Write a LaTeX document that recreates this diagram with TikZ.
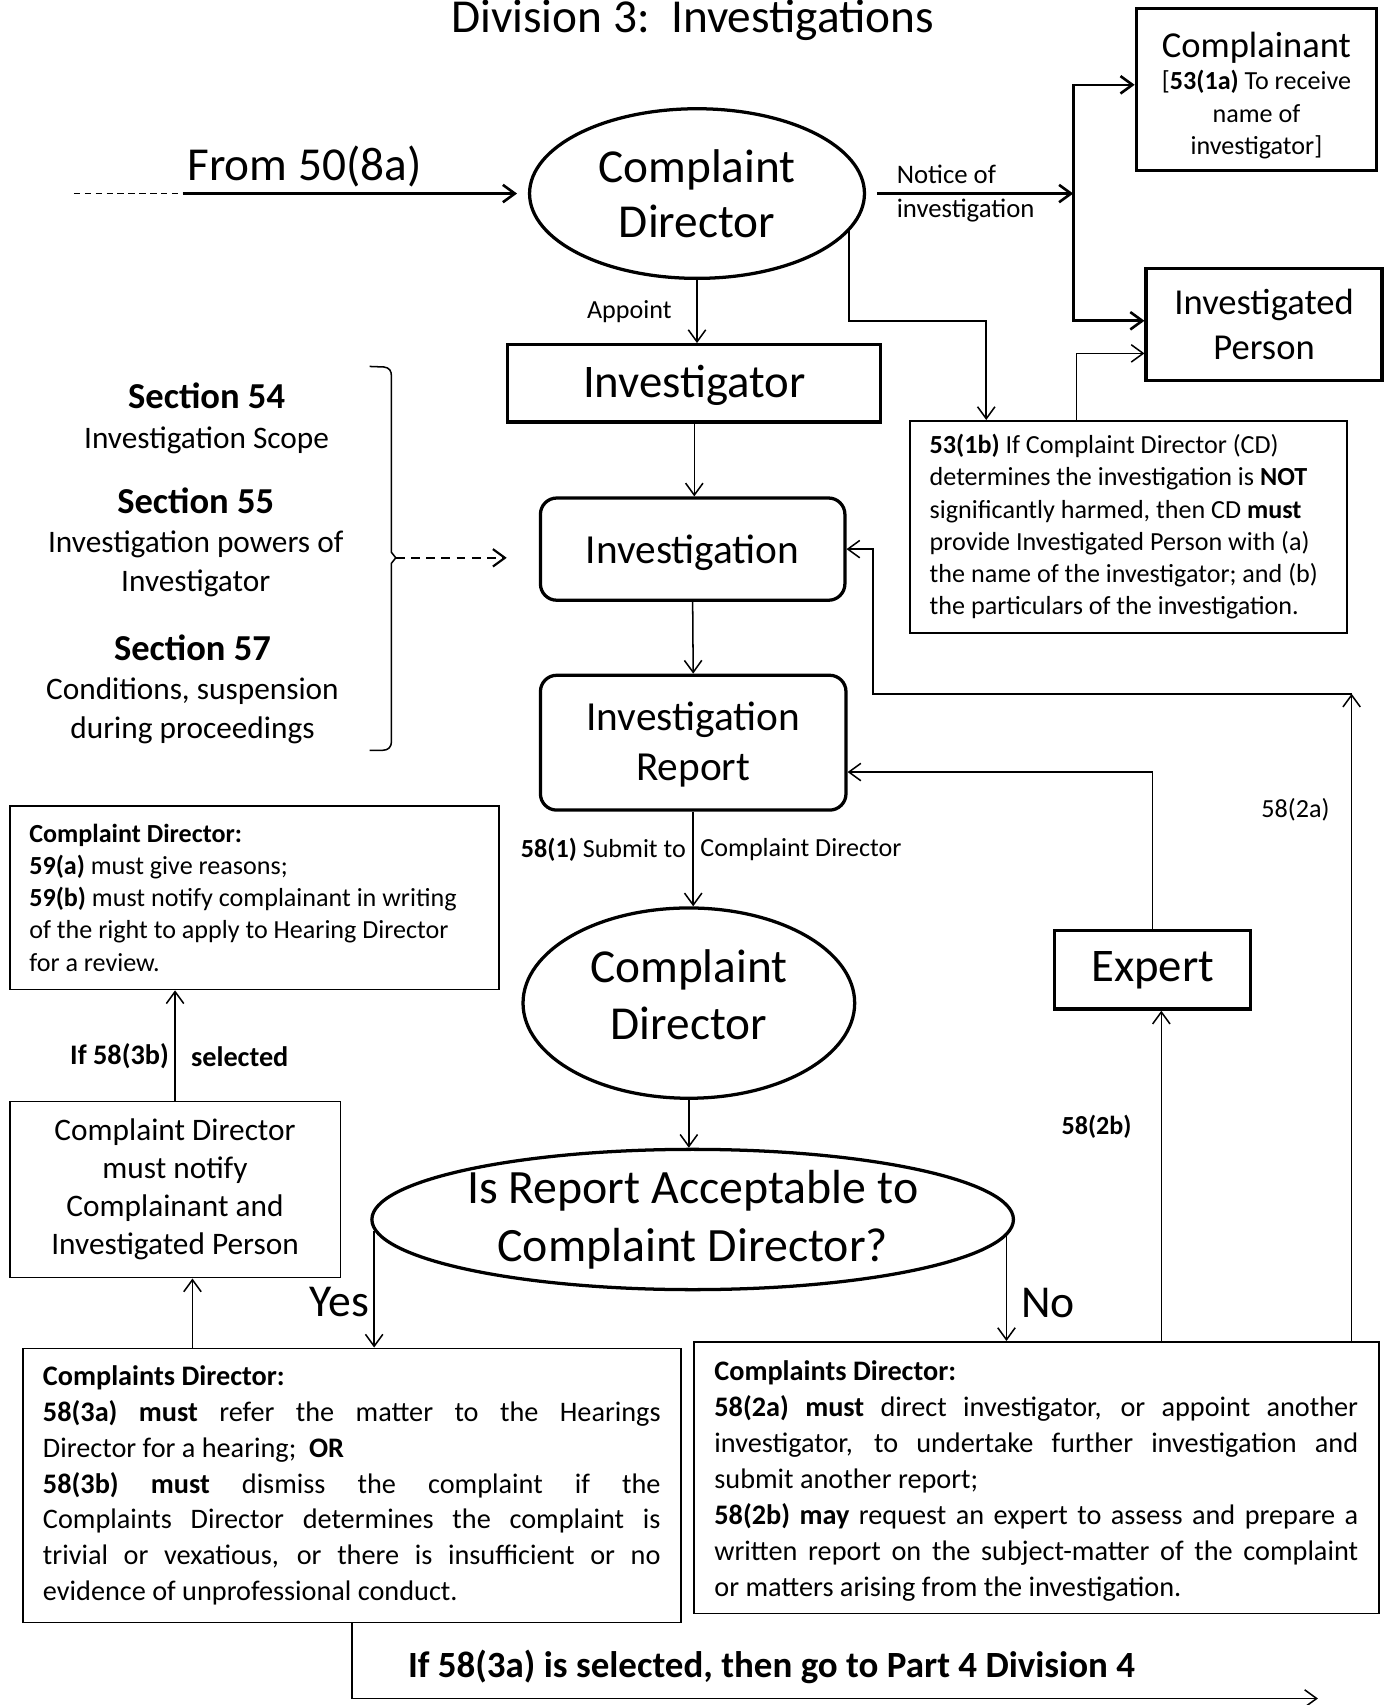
\documentclass[tikz,border=0pt]{standalone}
\usepackage{fontspec}
\setmainfont{Carlito}
\usetikzlibrary{arrows.meta,shapes.geometric}
\setlength{\parindent}{0pt}
\tolerance=9999 \hyphenpenalty=10000 \exhyphenpenalty=10000
\newcommand{\fsz}[2]{\fontsize{#1}{#2}\selectfont}

\begin{document}
\begin{tikzpicture}[x=0.5pt,y=-0.5pt,
  >={Straight Barb[length=5.5pt,width=8pt]},
  line width=0.7pt,
  bigbox/.style={draw,line width=1.5pt,inner sep=0pt,align=center},
  roundbox/.style={bigbox,rounded corners=7.5pt},
  oval/.style={draw,ellipse,line width=1.5pt,inner sep=0pt,align=center},
  textbox/.style={draw,line width=0.75pt,inner xsep=9pt,inner ysep=0pt,align=flush left},
  parbox/.style={draw,line width=0.75pt,inner xsep=9pt,inner ysep=0pt,align=justify},
  heavy/.style={line width=1.2pt},
  lblfont/.style={font=\fsz{12}{14.5}}]
\useasboundingbox (0,0) rectangle (1272,1568);

% title
\node[font=\fsz{21.75}{25.5},anchor=base] (title) at (637,30) {Division 3:\ \ Investigations};

% top row
\node[oval,minimum width=154pt,minimum height=78pt,font=\fsz{21.75}{25.5}] (cd1) at (641,178) {Complaint\\Director};
\node[bigbox,minimum width=110.5pt,minimum height=74.5pt,font=\fsz{12}{15}] (complainant) at (1155.5,82.5)
  {\rule{0pt}{17pt}{\fsz{16.8}{15}Complainant}\\{[}\textbf{53(1a)} To receive\\name of\\investigator]};
\node[bigbox,minimum width=108.5pt,minimum height=51.5pt,font=\fsz{16.8}{21}] (invp) at (1162.5,298.5) {Investigated\\Person};

% main column
\node[bigbox,minimum width=171.5pt,minimum height=35.5pt,font=\fsz{21.5}{25}] (invr) at (638.5,352.5) {\rule{0pt}{17pt}Investigator};
\node[roundbox,minimum width=140pt,minimum height=47pt,text depth=0pt,font=\fsz{19}{23}] (invn) at (637,505) {Investigation};
\node[roundbox,minimum width=140.5pt,minimum height=62pt,font=\fsz{19}{23}] (report) at (637.5,683) {\rule{0pt}{15pt}Investigation\\Report};
\node[oval,minimum width=152.5pt,minimum height=87.5pt,font=\fsz{21.75}{26}] (cd2) at (633.5,922.5) {Complaint\\Director\rule[-8pt]{0pt}{8pt}};
\node[oval,minimum width=295pt,minimum height=64.5pt,inner ysep=-2pt,font=\fsz{22}{26.5}] (dec) at (637,1121.5)
  {Is Report Acceptable to\\Complaint Director?};
\node[bigbox,minimum width=90pt,minimum height=36pt,font=\fsz{21.5}{25}] (expert) at (1060,892) {Expert};

% text boxes
\node[textbox,text width=183pt,minimum width=201pt,minimum height=97.5pt,font=\fsz{12}{14.8}] (box53) at (1038,484.5)
  {\textbf{53(1b)} If Complaint Director (CD)\\determines the investigation is \textbf{NOT}\\significantly harmed, then CD \textbf{must}\\provide Investigated Person with (a)\\the name of the investigator; and (b)\\the particulars of the investigation.};
\node[textbox,text width=207pt,minimum width=225pt,minimum height=84.5pt,font=\fsz{12}{14.8}] (box59) at (234,825.5)
  {\textbf{Complaint Director:}\\\textbf{59(a)} must give reasons;\\\textbf{59(b)} must notify complainant in writing\\of the right to apply to Hearing Director\\for a review.};
\node[draw,line width=0.75pt,align=center,minimum width=152pt,minimum height=81pt,inner sep=0pt,font=\fsz{14.4}{17.5}] (notify) at (161,1094)
  {Complaint Director\\must notify\\Complainant and\\Investigated Person};
\node[parbox,text width=284pt,minimum width=302.5pt,minimum height=126pt,font=\fsz{13}{16.5}] (boxyes) at (323.5,1366)
  {\textbf{Complaints Director:}\\
   \textbf{58(3a) must} refer the matter to the Hearings\linebreak Director for a hearing;\ \ \textbf{OR}\\
   \textbf{58(3b) must} dismiss the complaint if the\linebreak Complaints Director determines the complaint is\linebreak trivial or vexatious, or there is insufficient or no\linebreak evidence of unprofessional conduct.};
\node[parbox,inner xsep=9.5pt,text width=296pt,minimum width=315pt,minimum height=125pt,font=\fsz{13}{16.5}] (boxno) at (953,1359)
  {\rule{0pt}{12pt}\textbf{Complaints Director:}\\
   \textbf{58(2a) must} direct investigator, or appoint another\linebreak investigator, to undertake further investigation and\linebreak submit another report;\\
   \textbf{58(2b) may} request an expert to assess and prepare a\linebreak written report on the subject-matter of the complaint\linebreak or matters arising from the investigation.};

% sections
\node[align=center,font=\fsz{14.4}{18.5}] (sec54) at (190,385) {{\fsz{16.8}{18.5}\bfseries Section 54}\\Investigation Scope};
\node[align=center,font=\fsz{14.4}{18}] (sec55) at (180,499) {{\fsz{16.8}{18}\bfseries Section 55}\\Investigation powers of\\Investigator};
\node[align=center,font=\fsz{14.4}{18}] (sec57) at (177,634) {{\fsz{16.8}{18}\bfseries Section 57}\\Conditions, suspension\\during proceedings};
\draw (340,337) -- (353,337.5) .. controls (358,338) and (360,341) .. (360,346) -- (360,508) -- (364,513)
  -- (360,518) -- (360,682) .. controls (360,687) and (357,690) .. (352,690) -- (340,690);
\coordinate (brtip) at (364,513);
\coordinate (dashend) at (466,513);
\draw[->,line width=1pt,dash pattern=on 4pt off 3pt] (brtip) -- (dashend);

% entry
\coordinate (from0) at (68,178);
\coordinate (from1) at (168,178);
\draw[dash pattern=on 3pt off 2pt] (from0) -- (from1);
\draw[->,heavy,shorten >=5pt] (from1) -- (cd1.west);
\node[font=\fsz{21.75}{25.5},anchor=base] (fromlbl) at (280,166) {From 50(8a)};

% notice of investigation
\coordinate (split) at (987,178);
\draw[->,heavy] ([xshift=5pt]cd1.east) -- (split);
\draw[->,heavy] (split) |- ([yshift=2.25pt]complainant.west);
\draw[->,heavy] (split) |- ([yshift=1.75pt]invp.west);
\node[align=left,font=\fsz{12.3}{15.5}] (noticelbl) at (888,178) {Notice of\\investigation};
\coordinate (c53) at (907,295);
\draw[->] (cd1.-14) |- (c53) -- (c53 |- box53.north);
\draw[->] ([xshift=-24pt]box53.north) |- ([yshift=-13.25pt]invp.west);

% main flow
\draw[->] (cd1.south) -- (cd1.south |- invr.north) node[midway,left,lblfont,xshift=-8pt] (appointlbl) {Appoint};
\draw[->] (invr.south) -- (invr.south |- invn.north);
\draw[->] (invn.south) -- (report.north);
\draw[->] (report.south) -- (report.south |- cd2.north)
  node[pos=0.4,left,lblfont,inner sep=3pt] (submitlbl) {\textbf{58(1)} Submit to}
  node[pos=0.4,right,lblfont,inner sep=3pt] (cdlbl) {Complaint Director};
\draw[->] (cd2.south) -- (cd2.south |- dec.north);
\draw[->] (dec.182) -- (dec.182 |- boxyes.north) node[pos=0.61,left,inner sep=2pt,font=\fsz{21}{25}] (yeslbl) {Yes};
\draw[->] (dec.357.2) -- (dec.357.2 |- boxno.north) node[pos=0.64,right,inner sep=2pt,xshift=4.5pt,font=\fsz{21}{25}] (nolbl) {No};

% yes branch
\coordinate (yesup) at ([xshift=-73.25pt]boxyes.north);
\draw[->] (yesup) -- (yesup |- notify.south);
\draw[->] (notify.north) -- (notify.north |- box59.south)
  node[pos=0.4,left,inner sep=2.5pt,font=\bfseries\fsz{13}{15}] (iflbl) {If 58(3b)}
  node[pos=0.4,right,inner sep=2.5pt,xshift=4.5pt,font=\bfseries\fsz{13}{15}] (sellbl) {selected};
\coordinate (part4) at (1212,1562);
\draw[->] (boxyes.south) |- (part4);
\node[font=\bfseries\fsz{17}{20}] (part4lbl) at (709.5,1533) {If 58(3a) is selected, then go to Part 4 Division 4};

% no branch
\coordinate (up2b) at ([xshift=57.5pt]boxno.north);
\draw[->] (up2b) -- (up2b |- expert.south) node[pos=0.65,left,xshift=-10pt,font=\bfseries\fsz{12}{14}] (lbl2b) {58(2b)};
\draw[->] (expert.north) |- ([yshift=-13.5pt]report.east);
\coordinate (c2a) at (1243,638);
\coordinate (c2b) at (803,638);
\draw[->] (c2a |- boxno.north) -- (c2a) node[pos=0.82,left,xshift=-6.5pt,lblfont] (lbl2a) {58(2a)};
\draw[->] (c2a) -- (c2b) |- (invn.east);

\end{tikzpicture}
\end{document}
